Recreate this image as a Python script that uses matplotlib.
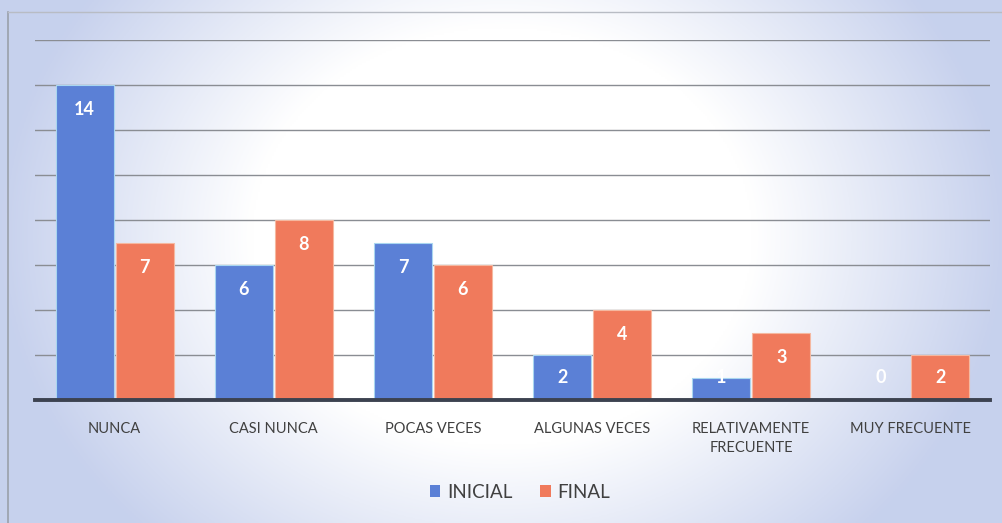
import numpy as np
import matplotlib
matplotlib.use("Agg")
import matplotlib.pyplot as plt

categories = ["NUNCA", "CASI NUNCA", "POCAS VECES", "ALGUNAS VECES",
              "RELATIVAMENTE\nFRECUENTE", "MUY FRECUENTE"]
inicial = [14, 6, 7, 2, 1, 0]
final = [7, 8, 6, 4, 3, 2]
series_names = ["INICIAL", "FINAL"]

BLUE = "#5b80d6"
ORANGE = "#f07a5c"

plt.rcParams['font.family'] = ['Lato', 'DejaVu Sans']

fig = plt.figure(figsize=(10.03, 5.23), dpi=100)

# background gradient
bg = fig.add_axes([0, 0, 1, 1], zorder=-10)
H, W = 260, 500
yy, xx = np.mgrid[0:H, 0:W]
cx, cy = W * 0.5, H * 0.45
d = np.sqrt(((xx - cx) / (W * 0.5)) ** 2 + ((yy - cy) / (H * 0.8)) ** 2)
t = np.clip((d - 0.5) / 0.5, 0, 1)
edge = np.array([0.78, 0.82, 0.93])
white = np.array([1.0, 1.0, 1.0])
img = white[None, None, :] * (1 - t[..., None]) + edge[None, None, :] * t[..., None]
bg.imshow(img, aspect='auto', extent=[0, 1, 0, 1], origin='upper')
bg.set_xlim(0, 1); bg.set_ylim(0, 1)
bg.axis('off')
# frame lines (left and top)
bg.plot([8 / 1003, 8 / 1003], [0, 1 - 12 / 523], color="#9aa0aa", lw=1.2)
bg.plot([8 / 1003, 1], [1 - 12 / 523, 1 - 12 / 523], color="#b8bcc4", lw=1.0)

ax = fig.add_axes([35 / 1003, 123 / 523, (990 - 35) / 1003, 360 / 523])
ax.set_facecolor('none')
x = np.arange(len(categories))
w = 0.365
b1 = ax.bar(x - w / 2 - 0.006, inicial, w, color=BLUE, edgecolor="#a9d6f0", linewidth=0.8, zorder=3, label=series_names[0])
b2 = ax.bar(x + w / 2 + 0.006, final, w, color=ORANGE, edgecolor="#f5b8a0", linewidth=0.8, zorder=3, label=series_names[1])

ax.set_xlim(-0.5, len(categories) - 0.5)
ax.set_ylim(0, 16)
ax.set_yticks(np.arange(0, 17, 2))
ax.yaxis.grid(True, color="#8a8d93", lw=1.0, zorder=0)
ax.tick_params(axis='y', left=False, labelleft=False)
ax.tick_params(axis='x', bottom=False, pad=12, labelsize=10.5, labelcolor="#404040")
ax.set_xticks(x)
ax.set_xticklabels(categories, linespacing=1.5)
for s in ['top', 'right', 'left']:
    ax.spines[s].set_visible(False)
ax.spines['bottom'].set_color("#3c4250")
ax.spines['bottom'].set_linewidth(2.8)
ax.spines['bottom'].set_zorder(4)

for bars, vals in ((b1, inicial), (b2, final)):
    for rect, v in zip(bars, vals):
        ypos = max(v - 1.1, 1.0)
        ax.text(rect.get_x() + rect.get_width() / 2, ypos, str(v),
                ha='center', va='center', color='white', fontsize=13,
                fontweight='bold', zorder=5)

leg = fig.legend(handles=[b1, b2], labels=series_names, loc='center',
                 bbox_to_anchor=(520 / 1003, 1 - 492 / 523), ncol=2, frameon=False,
                 fontsize=13.5, handlelength=0.55, handleheight=0.55,
                 handletextpad=0.35, columnspacing=1.5, labelcolor="#404040")
for h in leg.legend_handles:
    h.set_edgecolor('none')

fig.savefig("out.png", dpi=100)
